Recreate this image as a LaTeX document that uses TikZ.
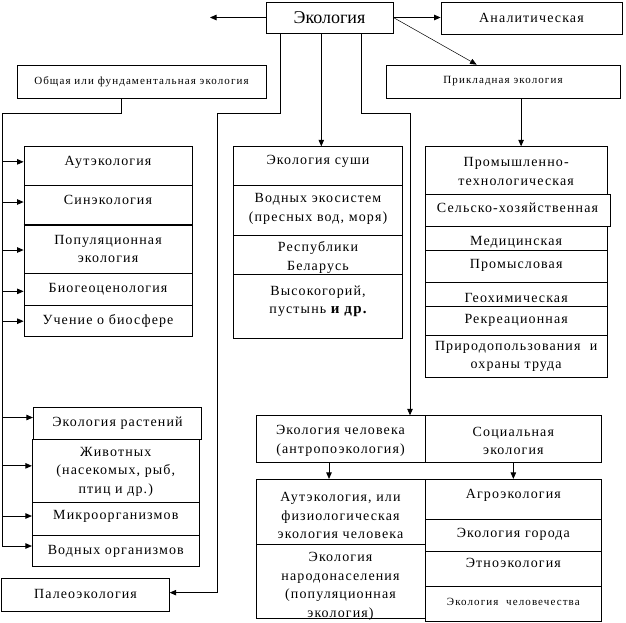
\documentclass[tikz,border=0pt]{standalone}
\usepackage{fontspec}
\setmainfont{Liberation Serif}[LetterSpace=8]
\newfontfamily\titlefont{Liberation Serif}
\newfontfamily\smallfont{Liberation Serif}[LetterSpace=10]
\usetikzlibrary{arrows.meta,calc}
\tikzset{
  box/.style={draw, line width=0.8pt, inner sep=0pt, rectangle},
  txt/.style={inner sep=0pt, align=center, font=\fontsize{14}{18.5}\selectfont},
  small/.style={inner sep=0pt, align=center, font=\smallfont\fontsize{11}{14}\selectfont},
  conn/.style={line width=0.8pt},
  arr/.style={line width=0.8pt, -{Triangle[length=6.5pt,width=5.5pt]}},
}
\newcommand\bx[8][txt]{%
  \node[box, minimum width={(#5)-(#3)}, minimum height={(#6)-(#4)}] (#2) at ({((#3)+(#5))/2},{((#4)+(#6))/2}) {};
  \node[#1] (#2-t) at ($(#2.center)+(0,#7)$) {#8};
}
\begin{document}
\begin{tikzpicture}[x=1pt,y=-1pt]
\useasboundingbox (0,0) rectangle (626,622);
% top
\node[box, minimum width=127, minimum height=31, font=\titlefont\fontsize{18}{20}\selectfont] (eco) at (329.5,17.5) {Экология};
\bx{anal}{441}{2}{622}{34}{0}{Аналитическая}
\bx[small]{obsh}{17}{65}{266}{98}{0}{Общая или фундаментальная экология}
\bx[small]{prik}{386}{65}{620}{98}{0}{Прикладная экология}
% left upper group
\bx{aut}{24}{146.7}{192}{185}{-3}{Аутэкология}
\bx{sin}{24}{185}{192}{225}{-5}{Синэкология}
\bx{pop}{24}{225}{192}{273}{0}{Популяционная\\экология}
\bx{bio}{24}{273}{192}{305.7}{0}{Биогеоценология}
\bx{uch}{24}{305.7}{192}{336.7}{0}{Учение о биосфере}
\draw[line width=2pt] (sin.south west) -- (sin.south east);
% middle group
\bx{sushi}{233.3}{146.7}{402.7}{185}{-4}{Экология суши}
\bx{vod}{233.3}{185}{402.7}{235}{-1}{Водных экосистем\\(пресных вод, моря)}
\bx{resp}{233.3}{235}{402.7}{274}{3}{Республики\\Беларусь}
\bx{vys}{233.3}{274}{402.7}{338.3}{-5}{Высокогорий,\\пустынь {\bfseries\fontsize{15}{18.5}\selectfont и др.}}
% right group
\bx{prom}{425}{146.7}{607.3}{194.3}{1}{Промышленно-\\технологическая}
\bx{selsk}{425}{194.3}{610}{226}{-2}{Сельско-хозяйственная}
\bx{med}{425}{226}{607.3}{250}{4}{Медицинская}
\bx{promysl}{425}{250}{607.3}{282.7}{-1}{Промысловая}
\bx{geo}{425}{282.7}{607.3}{306}{4}{Геохимическая}
\bx{rekr}{425}{306}{607.3}{335}{0}{Рекреационная}
\bx{prir}{425}{335}{607.3}{377.7}{0}{Природопользования~ и\\охраны труда}
% left lower group
\bx{rast}{33.3}{407}{201.7}{439}{0}{Экология растений}
\bx{zhiv}{32.3}{439}{199.3}{502.7}{1}{Животных\\(насекомых, рыб,\\птиц и др.)}
\bx{mikro}{32.3}{502.7}{199.3}{535.3}{-3}{Микроорганизмов}
\bx{vodorg}{32.3}{535.3}{199.3}{566.7}{0}{Водных организмов}
\bx{paleo}{1.7}{578.3}{169.3}{611}{-1}{Палеоэкология}
% bottom middle/right
\bx{chel}{256}{415.7}{425}{462.7}{1.5}{Экология человека\\(антропоэкология)}
\bx{soc}{425}{415.7}{601.7}{462.7}{1.5}{Социальная\\экология}
\bx{autch}{256}{479.3}{425}{544}{4}{Аутэкология, или\\физиологическая\\экология человека}
\bx{narod}{256}{544}{425}{618.3}{5}{Экология\\народонаселения\\(популяционная\\экология)}
\bx{agro}{425}{479.3}{601.7}{519}{-4}{Агроэкология}
\bx{gorod}{425}{519}{601.7}{551}{-1}{Экология города}
\bx{etno}{425}{551}{601.7}{586}{-6}{Этноэкология}
\bx[small]{chelvo}{425}{586}{601.7}{621}{-2}{Экология~~человечества}
% connectors from Экология
\coordinate (lft) at (210,17.5);
\draw[arr] (eco.west) -- (lft);
\draw[arr] (eco.east) -- (eco.east -| anal.west);
\draw[line width=0.5pt, -{Triangle[length=6.5pt,width=5.5pt]}] (eco.east) -- ($(prik.north west)+(91,0)$);
\coordinate (e1) at ($(eco.south west)+(15,0)$);
\coordinate (e2) at ($(eco.south west)+(55.7,0)$);
\coordinate (e3) at ($(eco.south west)+(96,0)$);
\coordinate (j1) at (217.5,113);
\coordinate (j2) at (410,113);
\draw[arr] (e1) |- (j1) |- ([yshift=2pt]paleo.east);
\draw[arr] (e2) -- (e2 |- sushi.north);
\draw[arr] (e3) |- (j2) -- (j2 |- chel.north);
% from Общая
\coordinate (o1) at ($(obsh.south west)+(104.7,0)$);
\coordinate (j3) at (2,113);
\draw[conn] (o1) |- (j3) -- ([yshift=5pt]vodorg.west -| j3);
\draw[arr] ([yshift=4pt]aut.west -| j3) -- ([yshift=4pt]aut.west);
\draw[arr] ([yshift=3pt]sin.west -| j3) -- ([yshift=3pt]sin.west);
\draw[arr] ([yshift=-1pt]pop.west -| j3) -- ([yshift=-1pt]pop.west);
\draw[arr] ([yshift=-2pt]bio.west -| j3) -- ([yshift=-2pt]bio.west);
\draw[arr] (uch.west -| j3) -- (uch.west);
\draw[arr] ([yshift=5.5pt]rast.west -| j3) -- ([yshift=5.5pt]rast.west);
\draw[arr] ([yshift=5pt]zhiv.west -| j3) -- ([yshift=5pt]zhiv.west);
\draw[arr] ([yshift=3pt]mikro.west -| j3) -- ([yshift=3pt]mikro.west);
\draw[arr] ([yshift=5pt]vodorg.west -| j3) -- ([yshift=5pt]vodorg.west);
% from Прикладная
\coordinate (p1) at ($(prik.south west)+(135.5,0)$);
\draw[arr] (p1) -- (p1 |- prom.north);
% human ecology
\draw[arr] ([xshift=-11.5pt]chel.south) -- ([xshift=-11.5pt]autch.north);
\draw[arr] (soc.south) -- (agro.north);
\end{tikzpicture}
\end{document}
